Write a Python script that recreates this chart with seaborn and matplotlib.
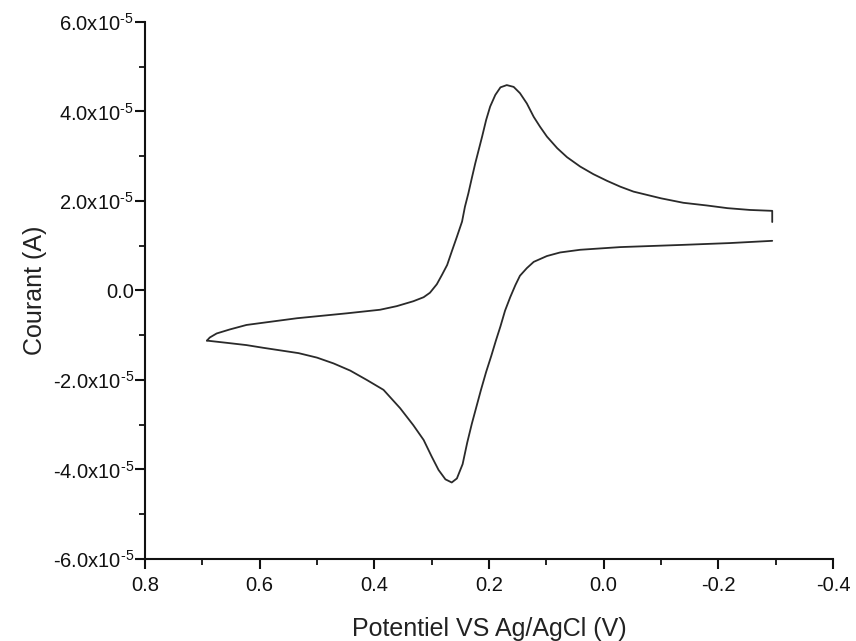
import matplotlib
matplotlib.use("Agg")
import matplotlib.pyplot as plt
import seaborn as sns
import pandas as pd
from matplotlib.ticker import FixedLocator, FixedFormatter

# ---- data (potential in V, current in units of 1e-5 A) ----
E_forward = [0.692, 0.687, 0.675, 0.652, 0.623, 0.582, 0.535, 0.448, 0.390, 0.361,
             0.332, 0.314, 0.303, 0.291, 0.282, 0.273, 0.265, 0.256, 0.247, 0.242,
             0.236, 0.230, 0.224, 0.218, 0.212, 0.205, 0.198, 0.189, 0.180, 0.169,
             0.157, 0.146, 0.134, 0.122, 0.111, 0.099, 0.081, 0.064, 0.041, 0.018,
             -0.006, -0.029, -0.052, -0.100, -0.139, -0.180, -0.216, -0.255, -0.294,
             -0.294]
I_forward = [-1.12, -1.05, -0.96, -0.87, -0.77, -0.70, -0.62, -0.51, -0.43, -0.35,
             -0.24, -0.15, -0.05, 0.14, 0.35, 0.57, 0.87, 1.20, 1.54, 1.87,
             2.17, 2.51, 2.84, 3.14, 3.44, 3.81, 4.11, 4.37, 4.54, 4.59,
             4.55, 4.41, 4.18, 3.88, 3.66, 3.44, 3.18, 2.98, 2.77, 2.60,
             2.45, 2.32, 2.21, 2.06, 1.96, 1.90, 1.84, 1.80, 1.78,
             1.53]

E_reverse = [-0.294, -0.220, -0.139, -0.029, 0.006, 0.041, 0.076, 0.099, 0.122, 0.134,
             0.146, 0.154, 0.163, 0.172, 0.180, 0.188, 0.196, 0.205, 0.214, 0.222,
             0.230, 0.238, 0.246, 0.256, 0.265, 0.276, 0.288, 0.300, 0.314, 0.332,
             0.355, 0.384, 0.413, 0.442, 0.471, 0.500, 0.532, 0.594, 0.623, 0.657,
             0.692]
I_reverse = [1.11, 1.06, 1.02, 0.97, 0.94, 0.91, 0.85, 0.77, 0.64, 0.50,
             0.33, 0.12, -0.15, -0.45, -0.80, -1.12, -1.46, -1.82, -2.22, -2.60,
             -2.98, -3.40, -3.88, -4.20, -4.29, -4.22, -4.01, -3.71, -3.34, -3.01,
             -2.63, -2.22, -2.00, -1.79, -1.63, -1.50, -1.40, -1.28, -1.22, -1.17,
             -1.12]

x_ticks = [0.8, 0.6, 0.4, 0.2, 0.0, -0.2, -0.4]
x_tick_labels = ["0.8", "0.6", "0.4", "0.2", "0.0", "-0.2", "-0.4"]
y_ticks = [-6e-5, -4e-5, -2e-5, 0.0, 2e-5, 4e-5, 6e-5]
y_tick_labels = [r"-6.0x10$^{\text{-5}}$", r"-4.0x10$^{\text{-5}}$", r"-2.0x10$^{\text{-5}}$",
                 "0.0",
                 r"2.0x10$^{\text{-5}}$", r"4.0x10$^{\text{-5}}$", r"6.0x10$^{\text{-5}}$"]
x_label = "Potentiel VS Ag/AgCl (V)"
y_label = "Courant (A)"

# ---- build table ----
scale = 1e-5
df = pd.DataFrame({
    "E": E_forward + E_reverse,
    "I": [v * scale for v in I_forward] + [v * scale for v in I_reverse],
    "branch": ["forward"] * len(E_forward) + ["reverse"] * len(E_reverse),
})

sns.set_theme(style="ticks")
plt.rcParams["font.family"] = ["Liberation Sans", "DejaVu Sans"]
plt.rcParams["mathtext.fontset"] = "custom"
plt.rcParams["mathtext.rm"] = "Liberation Sans"
plt.rcParams["mathtext.it"] = "Liberation Sans"
plt.rcParams["axes.unicode_minus"] = False

fig = plt.figure(figsize=(8.56, 6.41), dpi=100)
ax = fig.add_axes([145 / 856, 1 - 559 / 641, (833 - 145) / 856, (559 - 22) / 641])

sns.lineplot(data=df, x="E", y="I", units="branch", estimator=None, sort=False,
             color="#2a2a2a", linewidth=1.3, ax=ax, legend=False)

ax.set_xlim(0.8, -0.4)
ax.set_ylim(-6e-5, 6e-5)

ax.xaxis.set_major_locator(FixedLocator(x_ticks))
ax.xaxis.set_major_formatter(FixedFormatter(x_tick_labels))
ax.xaxis.set_minor_locator(FixedLocator([0.7, 0.5, 0.3, 0.1, -0.1, -0.3]))
ax.yaxis.set_major_locator(FixedLocator(y_ticks))
ax.yaxis.set_major_formatter(FixedFormatter(y_tick_labels))
ax.yaxis.set_minor_locator(FixedLocator([-5e-5, -3e-5, -1e-5, 1e-5, 3e-5, 5e-5]))

for side in ("top", "right"):
    ax.spines[side].set_visible(False)
for side in ("left", "bottom"):
    ax.spines[side].set_linewidth(1.5)
    ax.spines[side].set_color("#111111")

ax.tick_params(axis="both", which="major", direction="out", length=7, width=1.5,
               colors="#111111", labelsize=14.5, pad=1)
ax.tick_params(axis="both", which="minor", direction="out", length=4, width=1.3,
               colors="#111111")
ax.tick_params(axis="x", which="major", pad=5)

ax.set_xlabel(x_label, fontsize=18, color="#222222", labelpad=16)
ax.set_ylabel(y_label, fontsize=18, color="#222222", labelpad=4)

fig.savefig("out.png", dpi=100, facecolor="white")
